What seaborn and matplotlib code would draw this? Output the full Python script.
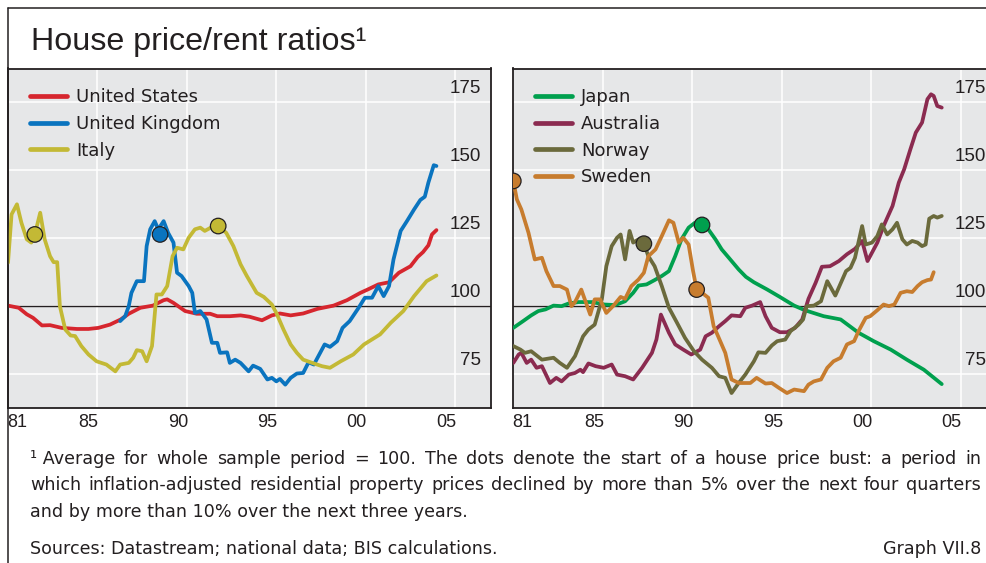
import matplotlib.pyplot as plt
from matplotlib.lines import Line2D
import seaborn as sns

# ---- data (years, index: sample average = 100) ----
us_x = [1981.0, 1981.6, 1982.05, 1982.4, 1982.9, 1983.35, 1984.0, 1984.85, 1985.5, 1986.05,
        1986.7, 1987.3, 1987.75, 1988.4, 1989.1, 1989.7, 1989.9, 1990.25, 1990.9, 1991.55,
        1992.3, 1992.7, 1993.4, 1994.0, 1994.5, 1995.2, 1995.75, 1996.2, 1996.8, 1997.5,
        1998.3, 1999.2, 1999.95, 2000.7, 2001.1, 2001.7, 2002.3, 2002.85, 2003.5, 2003.9,
        2004.2, 2004.5, 2004.7, 2004.95]
us_y = [100.2, 99.4, 97.0, 95.7, 92.9, 93.0, 92.0, 91.6, 91.6, 92.0,
        93.2, 95.1, 97.2, 99.4, 100.2, 102.2, 102.5, 101.2, 98.2, 97.2,
        97.2, 96.3, 96.3, 96.6, 96.1, 94.8, 96.6, 97.3, 96.6, 97.3,
        99.0, 100.2, 102.2, 104.9, 106.1, 108.0, 108.8, 112.3, 114.7, 118.1,
        119.9, 122.4, 126.4, 128.0]

uk_x = [1987.27, 1987.55, 1987.75, 1987.9, 1988.2, 1988.6, 1988.75, 1988.95, 1989.2, 1989.4,
        1989.7, 1989.95, 1990.25, 1990.45, 1990.7, 1991.1, 1991.3, 1991.45, 1991.75, 1992.1,
        1992.4, 1992.7, 1992.85, 1993.25, 1993.4, 1993.7, 1994.0, 1994.45, 1994.7, 1995.1,
        1995.5, 1995.75, 1996.0, 1996.2, 1996.5, 1996.8, 1997.15, 1997.5, 1997.8, 1998.1,
        1998.7, 1999.0, 1999.4, 1999.7, 2000.1, 2000.6, 2000.95, 2001.35, 2001.7, 2002.0,
        2002.3, 2002.55, 2002.95, 2003.3, 2003.7, 2004.05, 2004.3, 2004.5, 2004.8, 2004.95]
uk_y = [94.5, 96.3, 100.0, 104.9, 109.2, 109.2, 122.1, 128.3, 131.3, 128.3,
        131.3, 127.0, 123.4, 112.3, 111.1, 107.4, 104.9, 97.5, 98.2, 95.1,
        86.5, 86.5, 82.8, 83.0, 79.1, 80.3, 79.1, 76.0, 78.1, 76.9,
        73.0, 73.6, 72.3, 73.2, 71.1, 73.6, 75.2, 75.4, 79.3, 78.5,
        85.9, 85.0, 87.1, 92.0, 94.5, 99.4, 103.1, 103.1, 107.4, 103.7,
        107.4, 117.2, 127.7, 131.3, 135.6, 139.1, 140.3, 145.5, 151.9, 151.6]

it_x = [1981.0, 1981.2, 1981.5, 1981.75, 1982.05, 1982.3, 1982.5, 1982.8, 1983.05, 1983.35,
        1983.55, 1983.75, 1983.9, 1984.2, 1984.5, 1984.75, 1985.1, 1985.5, 1985.95, 1986.5,
        1987.0, 1987.27, 1987.75, 1988.0, 1988.2, 1988.5, 1988.75, 1989.05, 1989.3, 1989.6,
        1989.9, 1990.2, 1990.45, 1990.8, 1991.1, 1991.45, 1991.75, 1992.0, 1992.5, 1992.75,
        1993.2, 1993.6, 1994.0, 1994.35, 1994.9, 1995.3, 1995.75, 1996.0, 1996.4, 1996.8,
        1997.15, 1997.5, 1998.1, 1998.55, 1999.0, 1999.6, 2000.3, 2000.9, 2001.8, 2002.4,
        2003.1, 2003.7, 2004.4, 2004.95]
it_y = [116.0, 133.8, 137.5, 130.7, 124.6, 123.4, 126.4, 134.4, 124.6, 118.4,
        116.2, 116.2, 100.0, 91.4, 89.2, 89.0, 85.3, 82.2, 79.7, 78.5,
        76.0, 78.5, 79.1, 81.0, 83.8, 83.4, 79.7, 85.3, 104.3, 104.3,
        107.4, 118.4, 121.5, 120.9, 125.2, 128.3, 128.9, 127.7, 129.5, 129.5,
        127.0, 122.1, 115.4, 111.1, 104.9, 103.4, 100.6, 97.5, 91.4, 85.9,
        82.8, 80.3, 78.9, 77.9, 77.3, 79.7, 82.2, 85.9, 89.6, 93.9,
        98.2, 103.7, 109.2, 111.3]

jp_x = [1981.0, 1981.55, 1982.0, 1982.4, 1982.8, 1983.25, 1983.7, 1984.1, 1984.65, 1985.4,
        1986.1, 1986.7, 1987.25, 1987.7, 1988.0, 1988.45, 1988.9, 1989.3, 1989.7, 1990.05,
        1990.4, 1990.8, 1991.15, 1991.55, 1991.9, 1992.3, 1992.65, 1993.05, 1993.6, 1994.0,
        1994.45, 1995.2, 1995.9, 1996.7, 1997.3, 1998.35, 1999.3, 2000.3, 2001.15, 2002.1,
        2003.0, 2003.95, 2004.95]
jp_y = [92.0, 94.5, 96.6, 98.2, 98.8, 100.2, 100.0, 101.0, 101.5, 101.5,
        100.6, 100.4, 101.8, 104.9, 107.6, 108.0, 109.6, 111.1, 112.9, 118.4,
        124.6, 128.9, 130.7, 130.1, 128.3, 124.6, 120.9, 117.8, 113.5, 110.8,
        108.8, 106.1, 103.4, 100.2, 98.5, 96.3, 95.1, 90.2, 87.1, 84.0,
        80.3, 76.6, 71.3]

au_x = [1981.0, 1981.3, 1981.45, 1981.75, 1982.0, 1982.3, 1982.6, 1983.05, 1983.4, 1983.7,
        1984.1, 1984.45, 1984.75, 1984.9, 1985.2, 1985.6, 1986.05, 1986.5, 1986.8, 1987.25,
        1987.7, 1988.2, 1988.75, 1989.0, 1989.25, 1989.7, 1990.05, 1990.5, 1990.95, 1991.45,
        1991.75, 1992.1, 1992.5, 1992.85, 1993.2, 1993.69, 1993.97, 1994.35, 1994.8, 1995.1,
        1995.45, 1995.9, 1996.3, 1996.75, 1997.15, 1997.5, 1997.9, 1998.25, 1998.7, 1999.2,
        1999.65, 2000.1, 2000.5, 2000.8, 2001.35, 2001.7, 2002.2, 2002.55, 2002.85, 2003.2,
        2003.5, 2003.85, 2004.15, 2004.35, 2004.5, 2004.7, 2004.95]
au_y = [79.1, 82.2, 82.8, 79.1, 80.3, 77.3, 77.9, 71.7, 73.6, 72.3,
        74.8, 75.4, 76.6, 75.7, 78.9, 77.9, 77.3, 78.5, 74.8, 74.2,
        73.0, 77.3, 82.8, 87.7, 96.9, 90.2, 85.9, 84.0, 82.2, 84.0,
        88.9, 90.2, 92.6, 94.5, 96.6, 96.3, 99.4, 100.2, 101.5, 96.3,
        92.0, 90.4, 90.4, 92.0, 95.1, 102.7, 108.6, 114.5, 114.7, 116.6,
        119.1, 121.1, 124.0, 116.6, 123.4, 129.5, 136.9, 145.5, 150.4, 157.8,
        163.9, 167.6, 176.2, 178.0, 177.4, 173.7, 173.1]

no_x = [1981.0, 1981.4, 1981.65, 1982.0, 1982.6, 1983.25, 1983.6, 1984.0, 1984.45, 1984.9,
        1985.2, 1985.55, 1985.95, 1986.2, 1986.5, 1986.8, 1987.0, 1987.25, 1987.5, 1987.7,
        1988.0, 1988.3, 1988.55, 1988.9, 1989.3, 1989.7, 1990.15, 1990.6, 1991.1, 1991.55,
        1992.1, 1992.5, 1992.85, 1993.2, 1993.6, 1993.97, 1994.45, 1994.7, 1995.1, 1995.45,
        1995.75, 1996.2, 1996.5, 1996.95, 1997.2, 1997.4, 1997.8, 1998.2, 1998.55, 1999.0,
        1999.3, 1999.6, 1999.85, 2000.1, 2000.5, 2000.7, 2001.05, 2001.35, 2001.6, 2001.9,
        2002.2, 2002.45, 2002.75, 2003.0, 2003.3, 2003.6, 2003.85, 2004.05, 2004.25, 2004.5,
        2004.7, 2004.95]
no_y = [85.3, 84.0, 82.8, 83.4, 80.3, 81.0, 79.1, 77.3, 81.6, 88.9,
        91.4, 93.2, 102.5, 114.7, 122.1, 125.2, 126.4, 117.2, 127.7, 123.4,
        124.6, 123.0, 118.4, 114.7, 107.4, 99.4, 93.9, 88.3, 83.4, 80.3,
        77.3, 74.2, 73.6, 68.0, 71.7, 74.8, 79.7, 83.0, 82.8, 85.5,
        87.1, 87.7, 90.8, 93.2, 95.1, 100.0, 100.2, 101.8, 109.2, 103.9,
        108.4, 112.9, 114.1, 117.8, 129.5, 122.7, 123.4, 125.8, 130.1, 126.4,
        128.3, 130.7, 124.6, 122.7, 124.0, 123.4, 122.1, 122.7, 132.2, 133.2,
        132.6, 133.2]

se_x = [1981.0, 1981.2, 1981.45, 1981.85, 1982.2, 1982.6, 1982.85, 1983.25, 1983.6, 1984.0,
        1984.25, 1984.45, 1984.8, 1985.3, 1985.55, 1985.85, 1986.2, 1986.6, 1987.0, 1987.25,
        1987.6, 1988.0, 1988.3, 1988.55, 1988.95, 1989.3, 1989.7, 1989.95, 1990.25, 1990.5,
        1990.8, 1991.05, 1991.25, 1991.55, 1991.9, 1992.2, 1992.45, 1992.85, 1993.2, 1993.6,
        1993.97, 1994.25, 1994.6, 1995.1, 1995.45, 1995.85, 1996.3, 1996.7, 1997.25, 1997.5,
        1997.8, 1998.2, 1998.55, 1998.9, 1999.3, 1999.65, 2000.05, 2000.3, 2000.7, 2000.95,
        2001.35, 2001.7, 2002.0, 2002.3, 2002.65, 2003.0, 2003.3, 2003.6, 2003.85, 2004.15,
        2004.35, 2004.5]
se_y = [146.1, 139.3, 135.6, 127.0, 117.2, 117.8, 112.9, 107.4, 107.4, 106.1,
        100.0, 101.5, 106.1, 96.9, 102.5, 102.5, 97.5, 100.2, 103.4, 102.7,
        107.4, 109.8, 112.3, 118.4, 120.9, 125.8, 131.6, 130.7, 123.4, 125.2,
        122.7, 112.9, 106.1, 104.9, 103.1, 92.6, 88.9, 82.8, 73.0, 71.7,
        71.7, 71.7, 73.6, 71.5, 71.7, 69.9, 68.0, 69.3, 68.7, 71.1,
        72.3, 73.0, 77.3, 79.7, 81.0, 85.9, 87.1, 90.8, 95.7, 96.3,
        98.5, 100.6, 100.0, 100.6, 104.9, 105.5, 105.2, 107.4, 108.8, 109.6,
        109.8, 112.5]

# start of house price busts (dots)
bust_left_x = [1982.5, 1989.5, 1992.75]
bust_left_y = [126.4, 126.4, 129.5]
bust_left_c = ['Italy', 'United Kingdom', 'Italy']
bust_right_x = [1981.0, 1988.3, 1991.25, 1991.55]
bust_right_y = [146.1, 123.0, 106.1, 129.9]
bust_right_c = ['Sweden', 'Norway', 'Sweden', 'Japan']

colors = {'United States': '#d6262e', 'United Kingdom': '#0a74bf', 'Italy': '#c3b935',
          'Japan': '#00a04e', 'Australia': '#8b2b50', 'Norway': '#6b6a3c', 'Sweden': '#c77c2e'}

yticks = [75, 100, 125, 150, 175]
year_label_pos = [1981.5, 1985.5, 1990.5, 1995.5, 2000.5, 2005.5]
year_labels = ['81', '85', '90', '95', '00', '05']

title = 'House price/rent ratios\u00b9'
notes = ['\u00b9\u00a0Average for whole sample period = 100. The dots denote the start of a house price bust: a period in',
         'which inflation-adjusted residential property prices declined by more than 5% over the next four quarters',
         'and by more than 10% over the next three years.']
sources = 'Sources: Datastream; national data; BIS calculations.'
graph_no = 'Graph VII.8'

# ---- style ----
sns.set_style('white')
plt.rcParams['font.family'] = ['Liberation Sans', 'DejaVu Sans']
WIDE = ['DejaVu Sans']
INK = '#231f20'
PANEL = '#e6e7e8'
W, H = 986, 563

fig = plt.figure(figsize=(W / 100, H / 100), dpi=100)


def px_axes(x0, y0, x1, y1):
    # box given in pixels from the top-left corner
    return fig.add_axes([x0 / W, 1 - y1 / H, (x1 - x0) / W, (y1 - y0) / H])


def panel(ax, series, bx, by, bc):
    ax.set_facecolor(PANEL)
    for name, xs, ys in series:
        sns.lineplot(x=xs, y=ys, ax=ax, color=colors[name], lw=2.7, label=name,
                     estimator=None, sort=False, zorder=3)
    sns.scatterplot(x=bx, y=by, hue=bc, palette=colors, ax=ax, s=125, legend=False,
                    edgecolor=INK, linewidth=0.9, zorder=5)
    ax.axhline(100, color=INK, lw=1.0, zorder=2)

    ax.set_xlim(1981, 2008)
    ax.set_ylim(62.5, 187.5)
    ax.set_xticks(range(1986, 2007, 5))
    ax.set_xticks(range(1982, 2008), minor=True)
    ax.set_yticks(yticks)
    ax.tick_params(axis='x', which='major', direction='in', length=21.6, width=0.8,
                   color='#444', labelbottom=False)
    ax.tick_params(axis='x', which='minor', direction='in', length=10.8, width=0.8, color='#444')
    ax.tick_params(axis='y', length=0, labelleft=False)
    ax.grid(True, which='major', color='white', lw=1.1, zorder=1)
    ax.set_axisbelow(True)
    ax.set_xlabel('')
    ax.set_ylabel('')
    for s in ax.spines.values():
        s.set_visible(True)
        s.set_color(INK)
        s.set_linewidth(1.3)

    sec = ax.secondary_xaxis('bottom')
    sec.set_xticks(year_label_pos, labels=year_labels)
    sec.tick_params(length=0, pad=4, labelsize=13, labelcolor=INK)
    sec.spines['bottom'].set_visible(False)

    for v in yticks:
        ax.annotate(str(v), xy=(1, v), xycoords=('axes fraction', 'data'),
                    xytext=(-7.5, 6.5), textcoords='offset points',
                    ha='right', va='baseline', fontsize=13.5, color=INK)

    leg = ax.legend(loc='upper left', bbox_to_anchor=(22 / 483, 0.942), frameon=False,
                    prop={'family': WIDE, 'size': 13}, handlelength=2.05, handletextpad=0.5,
                    labelspacing=0.48, borderpad=0, borderaxespad=0, labelcolor=INK)
    for h in leg.legend_handles:
        h.set_linewidth(3.4)


axl = px_axes(8, 68.5, 491, 408)
axr = px_axes(513.3, 68.5, 996.3, 408)

panel(axl, [('United States', us_x, us_y), ('United Kingdom', uk_x, uk_y), ('Italy', it_x, it_y)],
      bust_left_x, bust_left_y, bust_left_c)
panel(axr, [('Japan', jp_x, jp_y), ('Australia', au_x, au_y), ('Norway', no_x, no_y),
            ('Sweden', se_x, se_y)],
      bust_right_x, bust_right_y, bust_right_c)

# frame round the graph
fig.add_artist(Line2D([7.5 / W, 7.5 / W], [0, 1 - 8 / H], color=INK, lw=1.1))
fig.add_artist(Line2D([7.5 / W, 1], [1 - 8 / H, 1 - 8 / H], color=INK, lw=1.1))

fig.text(31 / W, 1 - 50 / H, title, fontsize=23.2, color=INK, va='baseline')


def justified(line, x0, x1, ybase, size):
    r = fig.canvas.get_renderer()
    words = line.split(' ')
    ts = [fig.text(0, 1 - ybase / H, w, family=WIDE, fontsize=size, color=INK, va='baseline')
          for w in words]
    widths = [t.get_window_extent(r).width for t in ts]
    gap = (x1 - x0 - sum(widths)) / (len(ts) - 1)
    x = x0
    for t, w in zip(ts, widths):
        t.set_x(x / W)
        x += w + gap


FN = 12.65
justified(notes[0], 30, 981, 464, FN)
justified(notes[1], 30, 981, 490.5, FN)
fig.text(30 / W, 1 - 517 / H, notes[2], family=WIDE, fontsize=FN, color=INK, va='baseline')
fig.text(30 / W, 1 - 554 / H, sources, family=WIDE, fontsize=FN, color=INK, va='baseline')
fig.text(981 / W, 1 - 554 / H, graph_no, family=WIDE, fontsize=FN, color=INK, va='baseline',
         ha='right')

fig.savefig('out.png', dpi=100)
